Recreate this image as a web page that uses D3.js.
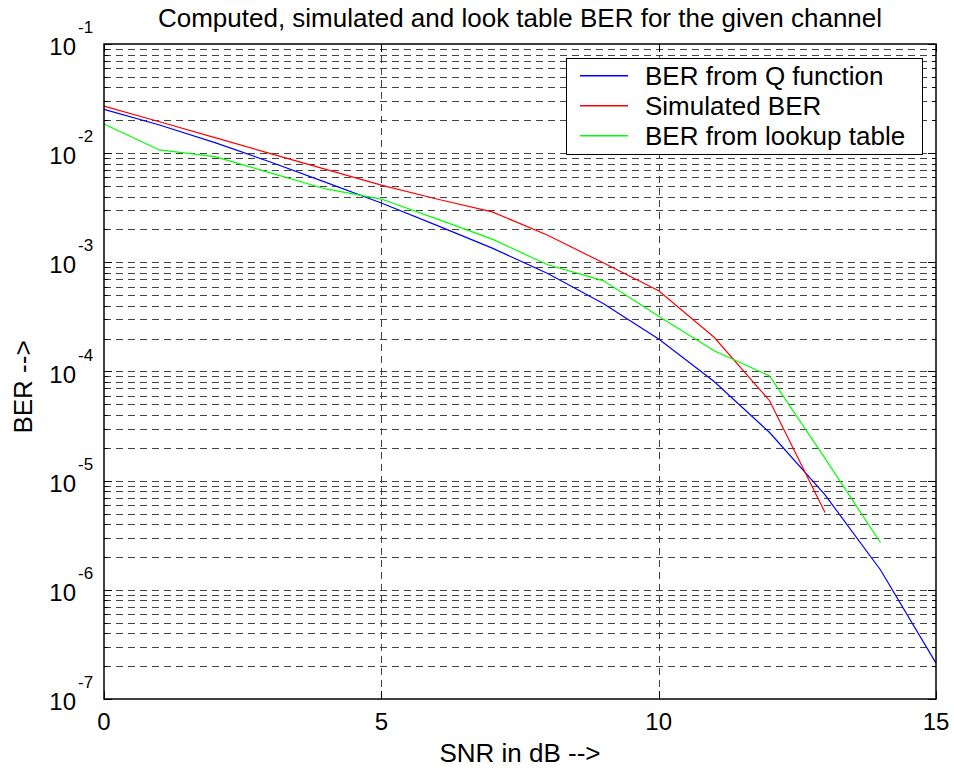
<!DOCTYPE html>
<html><head><meta charset="utf-8">
<script src="https://cdn.jsdelivr.net/npm/d3@7/dist/d3.min.js"></script>
<style>body{margin:0;background:#fff}svg{display:block;font-family:"Liberation Sans",Arial,Helvetica,sans-serif}</style>
</head><body><svg id="c" width="954" height="770"></svg>
<script>
const snr = [0,1,2,3,4,5,6,7,8,9,10,11,12,13,14,15];
const berQ = [0.0252,0.0181,0.0125,0.0083,0.0054,0.0035,0.00218,0.00135,0.00079,0.00042,0.000198,0.000081,0.0000276,0.0000074,0.00000152,0.000000213];
const berSim = [0.0270,0.0194,0.0139,0.0099,0.0071,0.0051,0.0038,0.0029,0.00177,0.00099,0.00055,0.000206,0.000054,0.0000051];
const berLut = [0.0185,0.0107,0.0093,0.0066,0.0047,0.0038,0.0025,0.00163,0.00095,0.00068,0.00032,0.000155,0.000091,0.000016,0.0000027];
const xTicks = [0,5,10,15];
const yExps = [-7,-6,-5,-4,-3,-2,-1];
const seriesNames = ["BER from Q function","Simulated BER","BER from lookup table"];
const seriesColors = ["#0000ff","#ff0000","#00ff00"];
const titleText = "Computed, simulated and look table BER for the given channel";
const xLabel = "SNR in dB -->";
const yLabel = "BER -->";

const L=104,R=936,T=44,B=699;
const svg=d3.select("#c");
const x=d3.scaleLinear().domain([0,15]).range([L,R]);
const y=d3.scaleLog().domain([1e-7,1e-1]).range([B,T]);

const yMinor=[];
for(let e=-7;e<-1;e++){for(let m=2;m<=9;m++){yMinor.push(m*Math.pow(10,e));}}
const yMajor=yExps.map(e=>Math.pow(10,e));

const g=svg.append("g");
g.selectAll("line.hg").data(yMinor.concat(yMajor.slice(1,-1))).enter().append("line")
 .attr("x1",L).attr("x2",R).attr("y1",d=>Math.round(y(d))+0.5).attr("y2",d=>Math.round(y(d))+0.5)
 .attr("stroke","#444").attr("stroke-width",1).attr("stroke-dasharray","7,5");
g.selectAll("line.vg").data(xTicks.slice(1,-1)).enter().append("line")
 .attr("y1",T).attr("y2",B).attr("x1",d=>Math.round(x(d))+0.5).attr("x2",d=>Math.round(x(d))+0.5)
 .attr("stroke","#444").attr("stroke-width",1).attr("stroke-dasharray","7,5");

const tk=svg.append("g").attr("stroke","#000").attr("stroke-width",1);
yMinor.forEach(v=>{const yy=Math.round(y(v))+0.5;
 tk.append("line").attr("x1",L).attr("x2",L+4).attr("y1",yy).attr("y2",yy);
 tk.append("line").attr("x1",R).attr("x2",R-4).attr("y1",yy).attr("y2",yy);});
yMajor.forEach(v=>{const yy=Math.round(y(v))+0.5;
 tk.append("line").attr("x1",L).attr("x2",L+8).attr("y1",yy).attr("y2",yy);
 tk.append("line").attr("x1",R).attr("x2",R-8).attr("y1",yy).attr("y2",yy);});
xTicks.forEach(v=>{const xx=Math.round(x(v))+0.5;
 tk.append("line").attr("x1",xx).attr("x2",xx).attr("y1",B).attr("y2",B-8);
 tk.append("line").attr("x1",xx).attr("x2",xx).attr("y1",T).attr("y2",T+8);});

const line=d3.line().x((d,i)=>x(snr[i])).y(d=>y(d));
[berQ,berSim,berLut].forEach((s,i)=>{
 svg.append("path").attr("d",line(s)).attr("fill","none").attr("stroke",seriesColors[i]).attr("stroke-width",1.2);
});

svg.append("rect").attr("x",L).attr("y",T).attr("width",R-L).attr("height",B-T)
 .attr("fill","none").attr("stroke","#000").attr("stroke-width",1.5);

svg.selectAll("text.xt").data(xTicks).enter().append("text")
 .attr("x",d=>x(d)).attr("y",730).attr("text-anchor","middle").attr("font-size",24).text(d=>d);
yExps.forEach(e=>{const yy=y(Math.pow(10,e));
 svg.append("text").attr("x",76).attr("y",yy+11).attr("text-anchor","end").attr("font-size",24).text("10");
 svg.append("text").attr("x",78).attr("y",yy-11).attr("text-anchor","start").attr("font-size",17).text(String(e));
});

svg.append("text").attr("x",(L+R)/2).attr("y",27).attr("text-anchor","middle").attr("font-size",26).text(titleText);
svg.append("text").attr("x",(L+R)/2).attr("y",762).attr("text-anchor","middle").attr("font-size",26).text(xLabel);
svg.append("text").attr("transform","translate(32,387) rotate(-90)").attr("text-anchor","middle").attr("font-size",26).text(yLabel);

const lg=svg.append("g");
lg.append("rect").attr("x",566.5).attr("y",58.5).attr("width",356).attr("height",96)
 .attr("fill","#fff").attr("stroke","#000").attr("stroke-width",1);
seriesNames.forEach((n,i)=>{const yy=76+i*30;
 lg.append("rect").attr("x",580).attr("y",yy-1).attr("width",48).attr("height",1.5).attr("fill",seriesColors[i]);
 lg.append("text").attr("x",645).attr("y",yy+9).attr("font-size",26).text(n);
});
</script></body></html>
